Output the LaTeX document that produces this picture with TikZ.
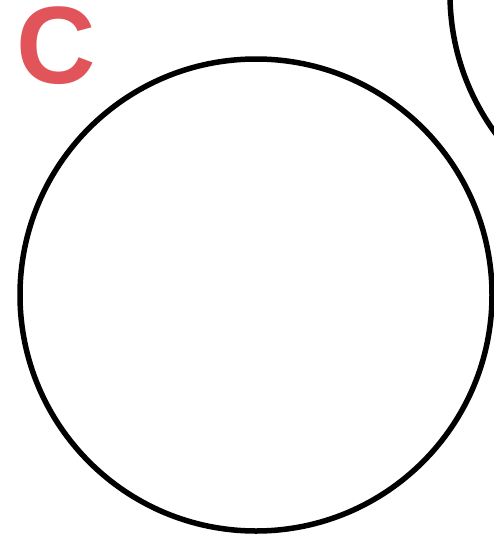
\documentclass[tikz,border=0pt]{standalone}
\usepackage{fontspec}
\newfontfamily\letterfont{Liberation Sans}
\definecolor{cred}{HTML}{E0545A}
\tikzset{
  ring/.style={draw=black, line width=5.5pt},
  bigletter/.style={font=\letterfont\bfseries\fontsize{110}{110}\selectfont, text=cred, inner sep=0pt, text height=78pt, text depth=1pt},
}
\begin{document}
\begin{tikzpicture}[x=1pt,y=-1pt]
\useasboundingbox (0,0) rectangle (494,536);
\fill[white] (0,0) rectangle (494,536);
\begin{scope}
\clip (0,0) rectangle (494,536);
\draw[ring] (256,295) circle[radius=236pt] coordinate (main);
\draw[ring] (686,-6) circle[radius=236pt] coordinate (other);
\end{scope}
\node[bigletter, anchor=base west] (letterC) at (16,83) {C};
\end{tikzpicture}
\end{document}
